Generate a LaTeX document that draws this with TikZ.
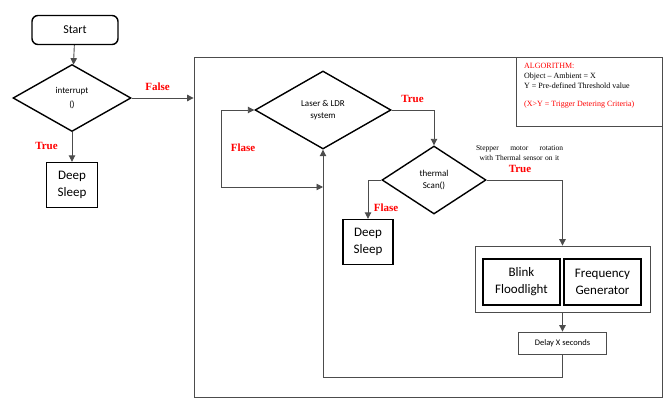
\documentclass[tikz,border=0pt]{standalone}
\usepackage{fontspec}
\setmainfont{Carlito}
\newfontfamily\tnr{Liberation Serif}
\usetikzlibrary{shapes.geometric,arrows.meta}

\tikzset{
    decision/.style={diamond, draw, line width=1.4pt, inner sep=0pt, align=center, font=\fontsize{9}{12}\selectfont},
    process/.style={rectangle, draw, line width=1.4pt, align=center, font=\fontsize{13}{17}\selectfont},
    thinbox/.style={rectangle, draw=black!70, line width=0.8pt, align=center},
    flow/.style={draw=black!70, line width=0.9pt, -{Triangle[length=6.5pt,width=6.5pt]}},
    redlabel/.style={text=red, font=\tnr\bfseries\fontsize{11}{13}\selectfont},
    note/.style={font=\tnr\fontsize{8}{10}\selectfont, inner sep=0pt},
}

\begin{document}
\begin{tikzpicture}[x=1pt,y=-1pt]
        \useasboundingbox (0,0) rectangle (672,412);

        % Start and interrupt test
        \node[process, rounded corners=6pt, minimum width=86pt, minimum height=29pt, font=\fontsize{12}{14}\selectfont] (start) at (75,30) {Start};
        \node[decision, minimum width=118pt, minimum height=67pt, font=\fontsize{9}{14}\selectfont] (interrupt) at (72,98) {interrupt\\()};
        \node[process, minimum width=51pt, minimum height=45pt, inner sep=0pt] (sleepA) at (72,185) {Deep\\Sleep};

        \draw[flow] (start) -- (interrupt);
        \draw[flow] (interrupt) -- (sleepA);
        \node[redlabel] (trueA) at (46.5,146) {True};

        % Main loop box
        \node[thinbox, minimum width=468pt, minimum height=340pt] (loopbox) at (428,227) {};
        \draw[flow] (interrupt.east) -- (loopbox.west |- interrupt.east);
        \node[redlabel] (falseA) at (157.5,87) {False};

        % Algorithm note
        \node[thinbox, minimum width=146pt, minimum height=69pt] (algo) at (589,91.5) {};
        \node[note, anchor=north west, align=left] (algotext) at (524,63) {\textcolor{red}{ALGORITHM:}\\Object – Ambient = X\\Y = Pre-defined Threshold value\\[8pt]\textcolor{red}{(X>Y = Trigger Detering Criteria)}};

        % Laser & LDR test
        \node[decision, minimum width=136pt, minimum height=78pt] (laser) at (323,110) {Laser \& LDR\\system};
        \node[redlabel] (trueB) at (412.5,99) {True};

        \coordinate (flaseback) at (221,187);
        \draw[flow, {Triangle[length=6.5pt,width=6.5pt]}-{Triangle[length=6.5pt,width=6.5pt]}] (laser.south |- flaseback) -- (flaseback) |- (laser.west);
        \node[redlabel] (flaseA) at (243,148) {Flase};

        % Thermal scan test
        \node[decision, minimum width=104pt, minimum height=68pt] (thermal) at (434,180) {thermal\\Scan()};
        \draw[flow] (laser.east) -| (thermal.north);
        \node[note, text width=87pt, align=center, font=\tnr\fontsize{7.5}{10}\selectfont] (stepper) at (519.5,153) {Stepper\hfill motor\hfill rotation\\with Thermal sensor on it};
        \node[redlabel] (trueC) at (520,169) {True};

        \node[process, minimum width=50pt, minimum height=45pt, inner sep=0pt] (sleepB) at (368,242) {Deep\\Sleep};
        \draw[flow] (thermal.west) -| (sleepB.north);
        \node[redlabel] (flaseB) at (386,208) {Flase};

        % Alarm outputs
        \node[thinbox, minimum width=175pt, minimum height=66pt] (alarm) at (562.5,279) {};
        \node[process, minimum width=77pt, minimum height=46pt, inner sep=0pt] (blink) at (521.5,282) {Blink\\Floodlight};
        \node[process, minimum width=77pt, minimum height=46pt, inner sep=0pt] (freq) at (602.5,282) {Frequency\\Generator};
        \draw[flow] (thermal.east) -| (alarm.north);

        \node[thinbox, minimum width=88pt, minimum height=22pt, font=\fontsize{8.5}{10}\selectfont] (delay) at (562.5,343) {Delay X seconds};
        \draw[flow] (alarm.south) -- (delay.north);

        % Back to the Laser & LDR test
        \coordinate (loopbottom) at (323,377);
        \draw[flow] (delay.south) |- (loopbottom) -- (laser.south);
\end{tikzpicture}
\end{document}
